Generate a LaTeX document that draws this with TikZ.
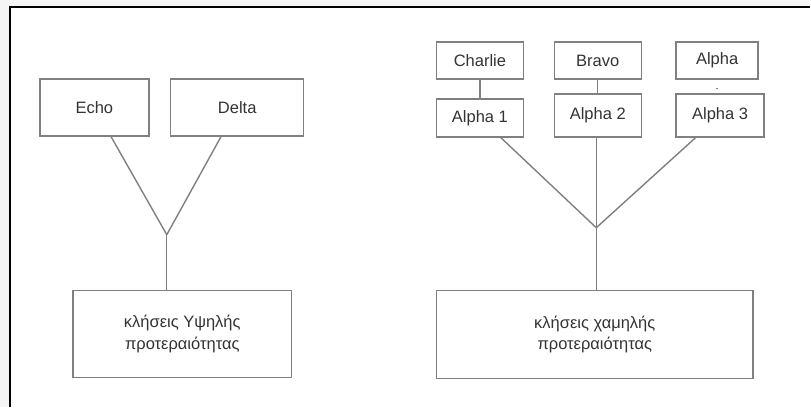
\documentclass[tikz,border=0pt]{standalone}
\usepackage{fontspec}
\setmainfont{Liberation Sans}
\begin{document}
\begin{tikzpicture}[x=1pt,y=-1pt]

      % page and frame
      \fill[black!4] (0,0) rectangle (811,408);
      \fill[white] (10,7) rectangle (811,408);
      \draw[line width=2pt] (10,408) -- (10,7) -- (811,7);
      \useasboundingbox (0,0) rectangle (811,408);

      \begin{scope}[every node/.style={rectangle, draw=black!50, line width=1.4pt, text=black!80, inner sep=0pt, align=center, font=\fontsize{16.5}{21.5}\selectfont}]
        \node[minimum width=109pt, minimum height=57pt] (echo)    at (94.5,107.5) {Echo};
        \node[minimum width=133pt, minimum height=57pt] (delta)   at (237.5,107.5) {Delta};
        \node[minimum width=219pt, minimum height=87pt] (high)    at (182.5,334.5) {κλήσεις Υψηλής\\προτεραιότητας};
        \node[minimum width=87pt, minimum height=37pt]  (charlie) at (480.5,60.5) {Charlie};
        \node[minimum width=87pt, minimum height=37pt]  (bravo)   at (598.5,60.5) {Bravo};
        \node[minimum width=82pt, minimum height=37pt]  (alpha)   at (718,60.5) {Alpha};
        \node[minimum width=87pt, minimum height=38pt]  (alpha1)  at (480.5,118) {Alpha 1};
        \node[minimum width=87pt, minimum height=43pt]  (alpha2)  at (598.5,115.5) {Alpha 2};
        \node[minimum width=88pt, minimum height=43pt]  (alpha3)  at (721,115.5) {Alpha 3};
        \node[minimum width=317pt, minimum height=88pt] (low)     at (595.5,335) {κλήσεις χαμηλής\\προτεραιότητας};
      \end{scope}

      \coordinate (hub1) at (167,235);
      \coordinate (hub2) at (597,228);
      \coordinate (stub1) at (718,88);
      \coordinate (stub2) at (718,89.5);

      \begin{scope}[every edge/.style={draw=black!50, line width=1.4pt}]
        \path (hub1)    edge (echo);
        \path (hub1)    edge (delta);
        \path (hub1)    edge (hub1 |- high.north);
        \path (charlie) edge (alpha1);
        \path (bravo)   edge (alpha2);
        \path (stub1)   edge (stub2);
        \path (hub2)    edge (alpha1);
        \path (hub2)    edge (hub2 |- alpha2.south);
        \path (hub2)    edge (alpha3);
        \path (hub2)    edge (hub2 |- low.north);
      \end{scope}

    \end{tikzpicture}
\end{document}
